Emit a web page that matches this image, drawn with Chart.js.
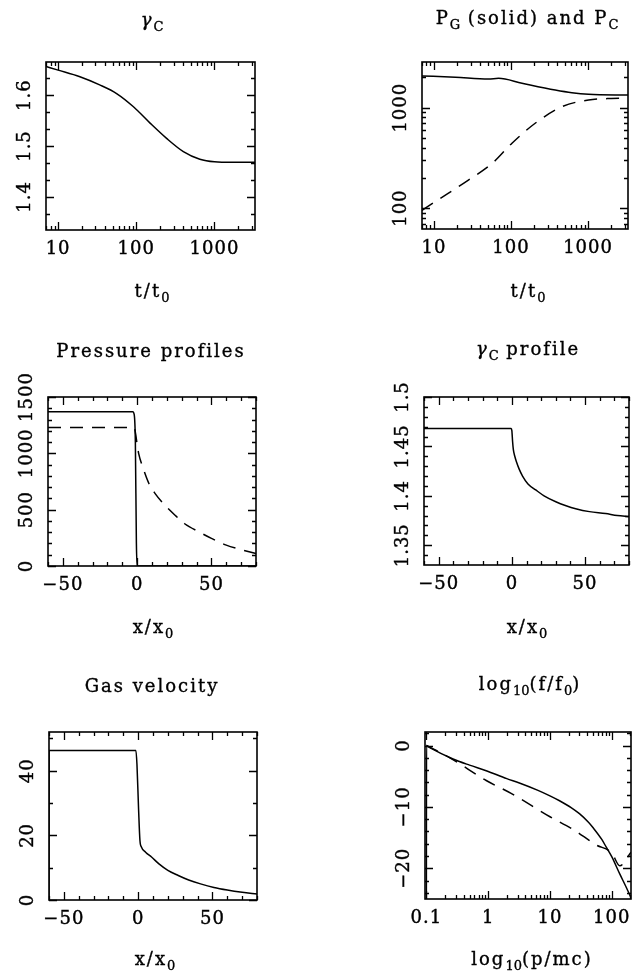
<!DOCTYPE html>
<html>
<head>
<meta charset="utf-8">
<script src="https://cdn.jsdelivr.net/npm/chart.js@4.4.0/dist/chart.umd.min.js"></script>
<style>
  body { margin: 0; background: #fff; }
  #page { position: relative; width: 644px; height: 977px; background: #fff; overflow: hidden; }
  canvas { position: absolute; }
  .lbl {
    position: absolute; transform: translate(-50%, -50%);
    font-family: "DejaVu Serif", serif; font-size: 18px; letter-spacing: 2px;
    -webkit-text-stroke: 0.35px #000;
    color: #000; white-space: nowrap;
  }
  .lbl sub { font-size: 13px; vertical-align: -5px; letter-spacing: 0; }
</style>
</head>
<body>
<div id="page">
  <canvas id="c1" width="322" height="320" style="left:0;top:0"></canvas>
  <canvas id="c2" width="322" height="320" style="left:322px;top:0"></canvas>
  <canvas id="c3" width="322" height="330" style="left:0;top:320px"></canvas>
  <canvas id="c4" width="322" height="330" style="left:322px;top:320px"></canvas>
  <canvas id="c5" width="322" height="327" style="left:0;top:650px"></canvas>
  <canvas id="c6" width="322" height="327" style="left:322px;top:650px"></canvas>

  <div class="lbl" style="left:152px;top:21px"><i>γ</i><sub>C</sub></div>
  <div class="lbl" style="left:527px;top:19px">P<sub>G</sub> (solid) and P<sub>C</sub></div>
  <div class="lbl" style="left:152px;top:292px">t/t<sub>0</sub></div>
  <div class="lbl" style="left:528px;top:292px">t/t<sub>0</sub></div>

  <div class="lbl" style="left:151px;top:350px">Pressure profiles</div>
  <div class="lbl" style="left:528px;top:350px"><i>γ</i><sub>C</sub> profile</div>
  <div class="lbl" style="left:153px;top:628px">x/x<sub>0</sub></div>
  <div class="lbl" style="left:527px;top:628px">x/x<sub>0</sub></div>

  <div class="lbl" style="left:152px;top:685px">Gas velocity</div>
  <div class="lbl" style="left:530px;top:685px">log<sub>10</sub>(f/f<sub>0</sub>)</div>
  <div class="lbl" style="left:155px;top:960px">x/x<sub>0</sub></div>
  <div class="lbl" style="left:532px;top:960px">log<sub>10</sub>(p/mc)</div>
</div>
<script>
// ---- panel 1: gamma_C vs t/t0 ----
const gammaT   = [7, 10, 19, 34, 56, 92, 150, 244, 400, 650, 1000, 1700, 3300];
const gammaVal = [1.656, 1.649, 1.636, 1.620, 1.603, 1.577, 1.545, 1.515, 1.489, 1.474, 1.469, 1.468, 1.468];

// ---- panel 2: P_G (solid) and P_C (dashed) vs t/t0 ----
const pgT   = [7, 19, 51, 69, 139, 375, 617, 1015, 3300];
const pgVal = [2070, 2010, 1930, 1960, 1750, 1500, 1410, 1360, 1337];
const pcT   = [7, 10.4, 28, 57, 103, 206, 457, 1015, 2000, 3300];
const pcVal = [95, 116, 190, 279, 443, 700, 1023, 1193, 1235, 1241];

// ---- panel 3: pressure profiles vs x/x0 ----
const pgProfX = [-60, -3, -2, -1.2, -0.5, 0, 80];
const pgProf  = [1370, 1370, 1345, 1100, 200, 0, 0];
const pcProfX = [-60, -2, -1, 0, 1, 4, 8, 12, 19, 26, 32, 42, 50, 60, 70, 80];
const pcProf  = [1230, 1230, 1170, 1080, 1000, 870, 730, 645, 535, 445, 375, 300, 245, 185, 145, 110];

// ---- panel 4: gamma_C profile ----
const gpX   = [-60, -0.5, 0, 0.5, 1, 2, 3, 5, 7.3, 11, 16.3, 22, 30, 37, 43.6, 53, 64, 72, 80];
const gpVal = [1.468, 1.468, 1.466, 1.455, 1.447, 1.440, 1.435, 1.427, 1.420, 1.412, 1.406, 1.400, 1.394, 1.390, 1.387, 1.384, 1.382, 1.380, 1.379];

// ---- panel 5: gas velocity ----
const velX   = [-60, -59.9, -1.5, -0.8, 0.3, 1.2, 2.2, 5, 9, 14, 20, 27, 34, 42, 51, 60, 70, 80];
const velVal = [0, 46.3, 46.3, 42, 28, 18.5, 16.4, 14.8, 13.3, 11.2, 9.2, 7.6, 6.2, 5.0, 3.9, 3.1, 2.4, 1.85];

// ---- panel 6: log10(f/f0) vs p/mc ----
const fP     = [0.1, 0.1005, 0.112, 0.27, 0.5, 0.93, 2, 3.2, 6.4, 10, 14.3, 22, 30, 42, 50, 69, 82, 100, 136, 170, 205];
const fSolid = [-25.1, 0, -0.3, -2.2, -3.2, -4.1, -5.4, -6.1, -7.3, -8.2, -9.0, -10.1, -11.1, -12.5, -13.4, -15.3, -16.6, -18.1, -21.0, -23.0, -24.8];
const fDashP = [0.1, 0.24, 0.93, 2.35, 10, 23, 36, 56, 100, 135, 205];
const fDash  = [0, -2.0, -5.7, -7.8, -11.6, -13.6, -14.9, -16.2, -17.5, -19.6, -17.4];

// ---- ticks and tick labels ----
const logMinorT = [7, 8, 9, 20, 30, 40, 50, 60, 70, 80, 90, 200, 300, 400, 500, 600, 700, 800, 900, 2000, 3000];
const tMajor = [10, 100, 1000];
const tLabels = ["10", "100", "1000"];

const g1Major = [1.4, 1.5, 1.6];
const g1Minor = [1.3667, 1.4333, 1.4667, 1.5333, 1.5667, 1.6333];
const g1Labels = ["1.4", "1.5", "1.6"];

const p2Major = [100, 1000];
const p2Minor = [70, 80, 90, 200, 300, 400, 500, 600, 700, 800, 900, 2000];
const p2Labels = ["100", "1000"];

const xMajor = [-50, 0, 50];
const xMinor = [-60, -40, -30, -20, -10, 10, 20, 30, 40, 60, 70, 80];
const xLabels = ["\u221250", "0", "50"];

const p3Major = [0, 500, 1000, 1500];
const p3Minor = [100, 200, 300, 400, 600, 700, 800, 900, 1100, 1200, 1300, 1400];
const p3Labels = ["0", "500", "1000", "1500"];

const g4Major = [1.35, 1.4, 1.45, 1.5];
const g4Minor = [1.34, 1.36, 1.37, 1.38, 1.39, 1.41, 1.42, 1.43, 1.44, 1.46, 1.47, 1.48, 1.49];
const g4Labels = ["1.35", "1.4", "1.45", "1.5"];

const v5Major = [0, 20, 40];
const v5Minor = [10, 30, 50];
const v5Labels = ["0", "20", "40"];

const pMajor = [0.1, 1, 10, 100];
const pMinor = [0.2, 0.3, 0.4, 0.5, 0.6, 0.7, 0.8, 0.9, 2, 3, 4, 5, 6, 7, 8, 9, 20, 30, 40, 50, 60, 70, 80, 90, 200];
const pLabels = ["0.1", "1", "10", "100"];
const f6Major = [0, -10, -20];
const f6Minor = [2, -2, -4, -6, -8, -12, -14, -16, -18, -22, -24];
const f6Labels = ["0", "\u221210", "\u221220"];

// box + inward ticks on all four sides, tick labels (y ones turned)
const frame = {
  id: "frame",
  afterDatasetsDraw(chart, args, o) {
    const { ctx, chartArea: a, scales: { x, y } } = chart;
    ctx.save();
    ctx.strokeStyle = "#000";
    ctx.lineWidth = 1.3;
    ctx.beginPath();
    const xt = (vals, len) => vals.forEach(v => {
      const px = Math.round(x.getPixelForValue(v)) + 0.5;
      ctx.moveTo(px, a.bottom); ctx.lineTo(px, a.bottom - len);
      ctx.moveTo(px, a.top); ctx.lineTo(px, a.top + len);
    });
    const yt = (vals, len) => vals.forEach(v => {
      const py = Math.round(y.getPixelForValue(v)) + 0.5;
      ctx.moveTo(a.left, py); ctx.lineTo(a.left + len, py);
      ctx.moveTo(a.right, py); ctx.lineTo(a.right - len, py);
    });
    xt(o.xMajor, 8); xt(o.xMinor, 4);
    yt(o.yMajor, 8); yt(o.yMinor, 4);
    ctx.stroke();
    ctx.lineWidth = 1.6;
    ctx.strokeRect(a.left, a.top, a.right - a.left, a.bottom - a.top);

    ctx.fillStyle = "#000";
    ctx.strokeStyle = "#000";
    ctx.lineWidth = 0.4;
    ctx.font = '18px "DejaVu Serif"';
    ctx.letterSpacing = "1px";
    ctx.textAlign = "center";
    ctx.textBaseline = "middle";
    const put = (t, px, py) => { ctx.fillText(t, px, py); ctx.strokeText(t, px, py); };
    o.xLabels.forEach((t, i) => put(t, x.getPixelForValue(o.xMajor[i]), a.bottom + 19));
    o.yLabels.forEach((t, i) => {
      ctx.save();
      ctx.translate(a.left - 21, y.getPixelForValue(o.yMajor[i]));
      ctx.rotate(-Math.PI / 2);
      put(t, 0, 0);
      ctx.restore();
    });
    ctx.restore();
  }
};

function pts(xs, ys) {
  return xs.map((v, i) => ({ x: v, y: ys[i] }));
}

function line(xs, ys, dashed) {
  return {
    data: pts(xs, ys),
    showLine: true,
    borderColor: "#000",
    borderWidth: 1.5,
    borderDash: dashed ? [13, 9] : [],
    pointRadius: 0,
    cubicInterpolationMode: "monotone",
    fill: false
  };
}

function panel(id, pad, datasets, xs, ys, ticks) {
  new Chart(document.getElementById(id), {
    type: "scatter",
    data: { datasets: datasets },
    plugins: [frame],
    options: {
      responsive: false,
      animation: false,
      layout: { padding: pad },
      scales: {
        x: Object.assign({ display: false }, xs),
        y: Object.assign({ display: false }, ys)
      },
      plugins: {
        legend: { display: false },
        tooltip: { enabled: false },
        frame: ticks
      }
    }
  });
}

panel("c1", { left: 46, top: 62, right: 67, bottom: 90 },
  [line(gammaT, gammaVal)],
  { type: "logarithmic", min: 7, max: 3300 },
  { type: "linear", min: 1.335, max: 1.665 },
  { xMajor: tMajor, xMinor: logMinorT, xLabels: tLabels, yMajor: g1Major, yMinor: g1Minor, yLabels: g1Labels });

panel("c2", { left: 100, top: 62, right: 16, bottom: 91 },
  [line(pgT, pgVal), line(pcT, pcVal, true)],
  { type: "logarithmic", min: 7, max: 3300 },
  { type: "logarithmic", min: 62, max: 2850 },
  { xMajor: tMajor, xMinor: logMinorT, xLabels: tLabels, yMajor: p2Major, yMinor: p2Minor, yLabels: p2Labels });

panel("c3", { left: 48, top: 77, right: 66, bottom: 84 },
  [line(pgProfX, pgProf), line(pcProfX, pcProf, true)],
  { type: "linear", min: -60, max: 80 },
  { type: "linear", min: 0, max: 1500 },
  { xMajor: xMajor, xMinor: xMinor, xLabels: xLabels, yMajor: p3Major, yMinor: p3Minor, yLabels: p3Labels });

panel("c4", { left: 102, top: 77, right: 15, bottom: 85 },
  [line(gpX, gpVal)],
  { type: "linear", min: -60, max: 80 },
  { type: "linear", min: 1.33, max: 1.5 },
  { xMajor: xMajor, xMinor: xMinor, xLabels: xLabels, yMajor: g4Major, yMinor: g4Minor, yLabels: g4Labels });

panel("c5", { left: 49, top: 82, right: 65, bottom: 77 },
  [line(velX, velVal)],
  { type: "linear", min: -60, max: 80 },
  { type: "linear", min: 0, max: 52 },
  { xMajor: xMajor, xMinor: xMinor, xLabels: xLabels, yMajor: v5Major, yMinor: v5Minor, yLabels: v5Labels });

panel("c6", { left: 103, top: 82, right: 13, bottom: 78 },
  [line(fP, fSolid), line(fDashP, fDash, true)],
  { type: "logarithmic", min: 0.095, max: 205 },
  { type: "linear", min: -25, max: 2.2 },
  { xMajor: pMajor, xMinor: pMinor, xLabels: pLabels, yMajor: f6Major, yMinor: f6Minor, yLabels: f6Labels });
</script>
</body>
</html>
